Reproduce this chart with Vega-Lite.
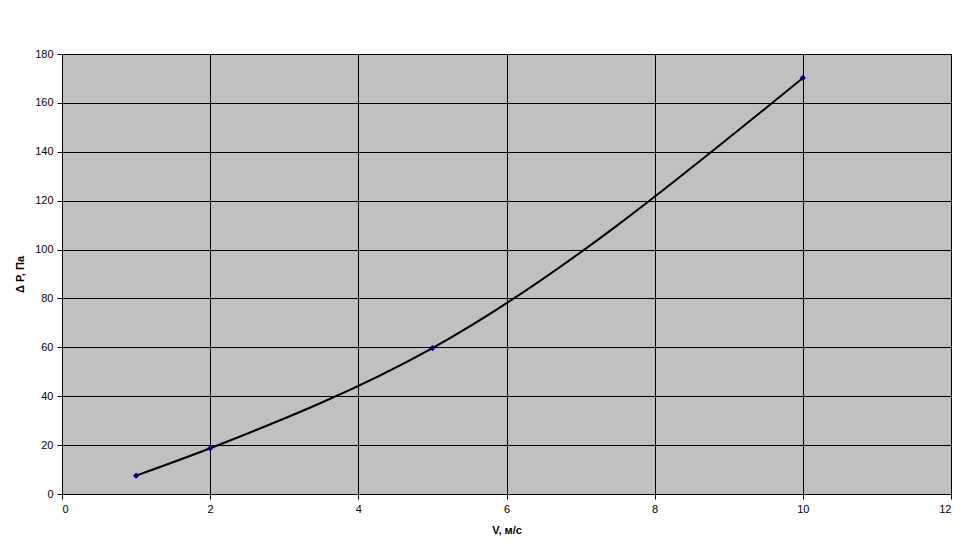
{
  "$schema": "https://vega.github.io/schema/vega-lite/v6.json",
  "width": 889,
  "height": 440,
  "autosize": {"type": "none"},
  "padding": {"left": 62, "top": 54, "right": 20, "bottom": 61},
  "background": "white",
  "config": {
    "view": {"fill": "#C0C0C0", "stroke": "black", "strokeWidth": 1},
    "axis": {
      "labelFont": "Liberation Sans",
      "titleFont": "Liberation Sans",
      "labelFontSize": 11,
      "titleFontSize": 11,
      "labelColor": "black",
      "titleColor": "black",
      "domainColor": "black",
      "tickColor": "black",
      "gridColor": "black",
      "gridOpacity": 1,
      "gridWidth": 1,
      "tickSize": 5,
      "labelPadding": 4
    }
  },
  "data": {
    "values": [
      {"v": 1, "dp": 7.5},
      {"v": 2, "dp": 18.7},
      {"v": 5, "dp": 59.7},
      {"v": 10, "dp": 170.2}
    ]
  },
  "encoding": {
    "x": {
      "field": "v",
      "type": "quantitative",
      "title": "V, м/с",
      "scale": {"domain": [0, 12], "nice": false},
      "axis": {"values": [0, 2, 4, 6, 8, 10, 12], "titlePadding": 10}
    },
    "y": {
      "field": "dp",
      "type": "quantitative",
      "title": "Δ P, Па",
      "scale": {"domain": [0, 180], "nice": false},
      "axis": {"values": [0, 20, 40, 60, 80, 100, 120, 140, 160, 180], "titlePadding": 9}
    }
  },
  "layer": [
    {
      "mark": {"type": "line", "color": "black", "strokeWidth": 2, "interpolate": "monotone"}
    },
    {
      "mark": {"type": "point", "shape": "diamond", "filled": true, "color": "#000080", "size": 40, "opacity": 1}
    }
  ]
}
